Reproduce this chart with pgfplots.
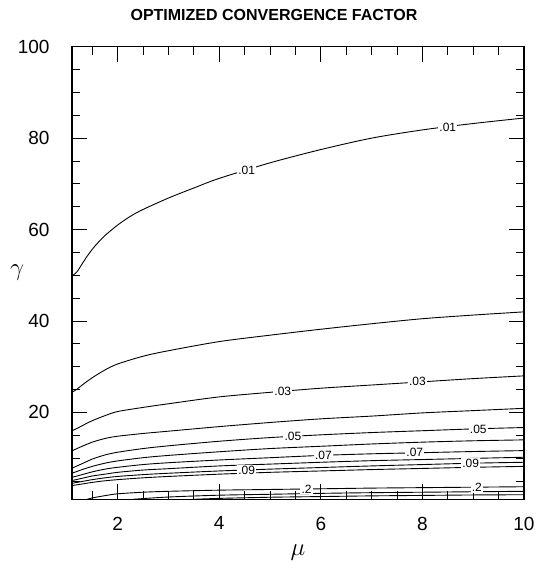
\documentclass[border=0pt]{standalone}
\usepackage{fontspec}
\setmainfont{Liberation Sans}
\usepackage{pgfplots}
\pgfplotsset{compat=1.18}
\begin{document}
\begin{tikzpicture}
\begin{axis}[
  name=ax,
  scale only axis,
  width=452pt, height=452.6pt,
  xmin=1.1, xmax=10, ymin=1, ymax=100,
  xtick={2,4,6,8,10}, ytick={20,40,60,80,100},
  minor xtick={1.5,2.5,3,3.5,4.5,5,5.5,6.5,7,7.5,8.5,9,9.5},
  minor ytick={5,10,15,25,30,35,45,50,55,65,70,75,85,90,95},
  tick align=inside,
  major tick length=15pt, minor tick length=8pt,
  every tick/.style={black, line width=0.8pt},
  axis line style={line width=1.3pt},
  /pgf/number format/assume math mode=true,
  tick label style={font=\fontsize{19}{19}\selectfont},
  xticklabel style={yshift=-14pt},
  yticklabel style={xshift=-19pt},
  xlabel={$\mu$}, ylabel={$\gamma$},
  every axis x label/.style={at={(0.5,0)}, anchor=center, yshift=-53.7pt, font=\fontsize{28}{28}\selectfont},
  every axis y label/.style={at={(0,0.5)}, anchor=center, xshift=-55pt, font=\fontsize{28}{28}\selectfont},
  title={OPTIMIZED CONVERGENCE FACTOR},
  every axis title/.style={at={(0.5,1)}, anchor=center, xshift=-24pt, yshift=32pt, font=\bfseries\fontsize{16}{16}\selectfont},
  cycle list={{black, no markers, solid}},
  clip=true,
]
\pgfplotsset{every axis plot/.append style={line width=0.9pt, smooth, tension=0.5}}
% .01
\addplot coordinates {(1.1,49.8)(1.2,50.8)(1.3,52.5)(1.4,54.2)(1.5,55.7)(1.6,57.0)(1.75,58.7)(2,61.0)(2.25,62.9)(2.5,64.4)(3,66.9)(3.5,69.1)(4,71.2)(5,74.6)(6,77.5)(7,80.0)(8,81.8)(9,83.2)(10,84.4)};
% .02
\addplot coordinates {(1.1,24.4)(1.2,25.1)(1.3,26.0)(1.5,27.6)(1.75,29.3)(2,30.6)(2.5,32.3)(3,33.5)(4,35.5)(5,36.9)(6,38.2)(7,39.4)(8,40.5)(9,41.3)(10,42.0)};
% .03
\addplot coordinates {(1.1,16.0)(1.2,16.5)(1.3,17.1)(1.5,18.2)(1.75,19.3)(2,20.2)(2.5,21.1)(3,21.9)(4,23.4)(5,24.4)(6,25.3)(7,26.0)(8,26.7)(9,27.4)(10,28.0)};
% .04
\addplot coordinates {(1.1,11.6)(1.3,12.6)(1.5,13.5)(1.75,14.3)(2,14.8)(2.5,15.4)(3,15.9)(4,16.9)(5,17.8)(6,18.6)(7,19.2)(8,19.9)(9,20.4)(10,20.9)};
% .05
\addplot coordinates {(1.1,7.8)(1.3,8.8)(1.5,9.8)(1.75,10.7)(2,11.3)(2.5,12.1)(3,12.7)(4,13.7)(5,14.5)(6,15.1)(7,15.6)(8,16.0)(9,16.4)(10,16.7)};
% .06
\addplot coordinates {(1.1,6.7)(1.3,7.5)(1.5,8.2)(1.75,8.9)(2,9.4)(2.5,10.1)(3,10.6)(4,11.4)(5,12.1)(6,12.6)(7,13.1)(8,13.5)(9,13.8)(10,14.0)};
% .07
\addplot coordinates {(1.1,5.8)(1.3,6.4)(1.5,7.0)(1.75,7.6)(2,8.0)(2.5,8.6)(3,9.0)(4,9.6)(5,10.1)(6,10.6)(7,10.95)(8,11.2)(9,11.45)(10,11.65)};
% .08
\addplot coordinates {(1.1,5.1)(1.3,5.6)(1.5,6.1)(1.75,6.5)(2,6.9)(2.5,7.4)(3,7.7)(4,8.3)(5,8.7)(6,9.1)(7,9.45)(8,9.7)(9,9.95)(10,10.2)};
% .09
\addplot coordinates {(1.1,4.5)(1.3,4.9)(1.5,5.3)(1.75,5.7)(2,6.0)(2.5,6.4)(3,6.7)(4,7.2)(5,7.6)(6,7.95)(7,8.3)(8,8.6)(9,8.9)(10,9.1)};
% .1
\addplot coordinates {(1.1,4.0)(1.3,4.35)(1.5,4.7)(1.75,5.05)(2,5.3)(2.5,5.7)(3,6.0)(4,6.5)(5,6.9)(6,7.2)(7,7.5)(8,7.75)(9,8.0)(10,8.2)};
% .2
\addplot coordinates {(1.4,1.0)(1.5,1.3)(1.75,1.8)(2,2.2)(2.5,2.55)(3,2.75)(4,3.0)(5,3.15)(6,3.3)(7,3.45)(8,3.55)(9,3.65)(10,3.75)};
% .3
\addplot coordinates {(2.3,1.0)(3,1.5)(4,1.9)(5,2.1)(6,2.3)(7,2.45)(8,2.55)(9,2.65)(10,2.75)};
% .4
\addplot coordinates {(3.5,1.0)(4,1.2)(5,1.45)(6,1.6)(7,1.75)(8,1.85)(9,1.95)(10,2.0)};
% contour labels
\tikzset{cl/.style={fill=white, inner sep=1.2pt, font=\fontsize{12}{12}\selectfont}}
\node[cl] at (axis cs:4.54,72.9) {.01};
\node[cl] at (axis cs:8.5,82.3) {.01};
\node[cl] at (axis cs:5.25,24.6) {.03};
\node[cl] at (axis cs:7.9,26.7) {.03};
\node[cl] at (axis cs:5.45,14.8) {.05};
\node[cl] at (axis cs:9.1,16.4) {.05};
\node[cl] at (axis cs:6.05,10.6) {.07};
\node[cl] at (axis cs:7.85,11.2) {.07};
\node[cl] at (axis cs:4.54,7.4) {.09};
\node[cl] at (axis cs:8.95,8.9) {.09};
\node[cl] at (axis cs:5.72,3.25) {.2};
\node[cl] at (axis cs:9.07,3.65) {.2};
\end{axis}
\pgfresetboundingbox
\path ([shift={(-72pt,-71.7pt)}]ax.south west) rectangle ([shift={(466pt,499.3pt)}]ax.south west);
\end{tikzpicture}
\end{document}
